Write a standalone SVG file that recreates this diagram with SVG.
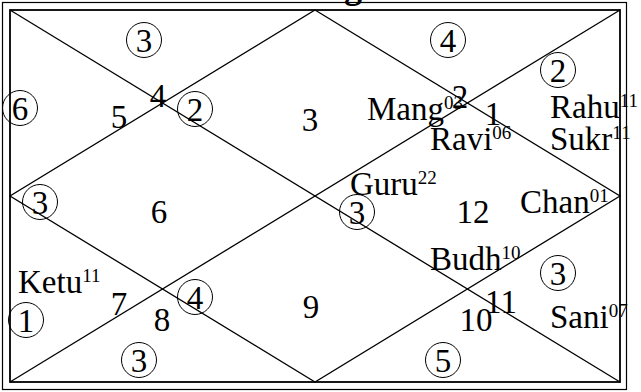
<svg xmlns="http://www.w3.org/2000/svg" width="641" height="392" viewBox="0 0 641 392">
<style>
text{font-family:"Liberation Serif","Times New Roman",serif;font-size:33px;fill:#000}
.n{text-anchor:middle}
.s{font-size:19px}
.c{fill:none;stroke:#000;stroke-width:1}
.ln{stroke:#000;stroke-width:1.3;fill:none}
.title{font-weight:bold;font-size:36px}
</style>
<rect width="641" height="392" fill="#fff"/>
<text class="title" x="344" y="-2">g</text>
<g id="frame">
<rect x="2.5" y="2.5" width="624" height="387" fill="none" stroke="#000" stroke-width="1.2"/>
<rect x="10" y="10" width="610" height="372" fill="none" stroke="#000" stroke-width="1.8"/>
</g>
<g id="connectors" class="ln">
<line x1="10" y1="10" x2="620" y2="382"/>
<line x1="620" y1="10" x2="10" y2="382"/>
<polygon points="315,10 620,196 315,382 10,196"/>
</g>
<g id="house1">
<text class="n" x="310" y="131">3</text>
<circle class="c" cx="195" cy="109" r="17.5"/><text class="n" x="195" y="120.5">2</text>
<text x="367" y="120">Mang<tspan class="s" dy="-11">03</tspan></text>
<text x="430" y="150">Ravi<tspan class="s" dy="-11">06</tspan></text>
</g>
<g id="house2">
<text class="n" x="158" y="107">4</text>
<circle class="c" cx="144" cy="40" r="17.5"/><text class="n" x="144" y="51.5">3</text>
</g>
<g id="house3">
<text class="n" x="119" y="128">5</text>
<circle class="c" cx="20" cy="108" r="17.5"/><text class="n" x="20" y="119.5">6</text>
</g>
<g id="house4">
<text class="n" x="159" y="223">6</text>
<circle class="c" cx="40" cy="202" r="17.5"/><text class="n" x="40" y="213.5">3</text>
</g>
<g id="house5">
<text class="n" x="119" y="315">7</text>
<circle class="c" cx="26" cy="320" r="17.5"/><text class="n" x="26" y="331.5">1</text>
<text x="18" y="293">Ketu<tspan class="s" dy="-11">11</tspan></text>
</g>
<g id="house6">
<text class="n" x="162" y="331">8</text>
<circle class="c" cx="139" cy="360" r="17.5"/><text class="n" x="139" y="371.5">3</text>
</g>
<g id="house7">
<text class="n" x="311" y="318">9</text>
<circle class="c" cx="195" cy="297" r="17.5"/><text class="n" x="195" y="308.5">4</text>
</g>
<g id="house8">
<text class="n" x="476" y="331">10</text>
<circle class="c" cx="443" cy="360" r="17.5"/><text class="n" x="443" y="371.5">5</text>
</g>
<g id="house9">
<text class="n" x="501" y="313">11</text>
<circle class="c" cx="558" cy="273" r="17.5"/><text class="n" x="558" y="284.5">3</text>
<text x="550" y="328">Sani<tspan class="s" dy="-11">07</tspan></text>
</g>
<g id="house10">
<text class="n" x="473" y="223">12</text>
<circle class="c" cx="357" cy="212" r="17.5"/><text class="n" x="357" y="223.5">3</text>
<text x="350" y="195">Guru<tspan class="s" dy="-11">22</tspan></text>
<text x="520" y="213">Chan<tspan class="s" dy="-11">01</tspan></text>
<text x="430" y="270">Budh<tspan class="s" dy="-11">10</tspan></text>
</g>
<g id="house11">
<text class="n" x="493" y="125">1</text>
<circle class="c" cx="558" cy="70" r="17.5"/><text class="n" x="558" y="81.5">2</text>
<text x="550" y="118">Rahu<tspan class="s" dy="-11">11</tspan></text>
<text x="550" y="150">Sukr<tspan class="s" dy="-11">11</tspan></text>
</g>
<g id="house12">
<text class="n" x="460" y="108">2</text>
<circle class="c" cx="448" cy="40" r="17.5"/><text class="n" x="448" y="51.5">4</text>
</g>
</svg>
